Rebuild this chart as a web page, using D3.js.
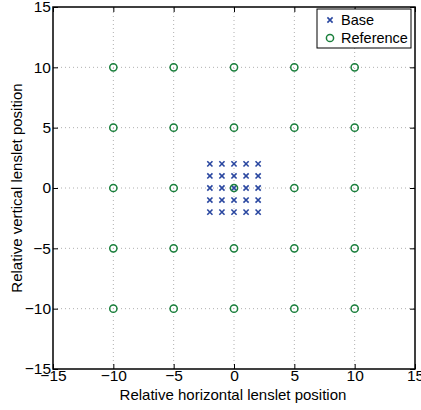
<!DOCTYPE html>
<html>
<head>
<meta charset="utf-8">
<script src="https://cdn.jsdelivr.net/npm/d3@7"></script>
<style>
  body { margin: 0; background: #fff; }
  text { font-family: "Liberation Sans", Arial, sans-serif; }
</style>
</head>
<body>
<div id="chart"></div>
<script>
// Base lenslet offsets (x, y) and reference lenslet offsets
const baseX = [-2, -1, 0, 1, 2];
const baseY = [-2, -1, 0, 1, 2];
const refX = [-10, -5, 0, 5, 10];
const refY = [-10, -5, 0, 5, 10];
const tickValues = [-15, -10, -5, 0, 5, 10, 15];

const width = 421, height = 410;
const margin = { top: 7, right: 6, bottom: 41, left: 53 };

const svg = d3.select("#chart").append("svg")
    .attr("width", width)
    .attr("height", height);

const x = d3.scaleLinear().domain([-15, 15]).range([margin.left, width - margin.right]);
const y = d3.scaleLinear().domain([-15, 15]).range([height - margin.bottom, margin.top]);

const blue = "#2a47a0";
const green = "#1a7f3c";
const fmt = d => d < 0 ? "\u2212" + Math.abs(d) : String(d);

// grid
const grid = svg.append("g").attr("stroke", "#b0b0b0").attr("stroke-width", 1)
    .attr("stroke-dasharray", "1,3");
tickValues.slice(1, -1).forEach(v => {
    grid.append("line").attr("x1", x(v)).attr("x2", x(v))
        .attr("y1", y(-15)).attr("y2", y(15));
    grid.append("line").attr("y1", y(v)).attr("y2", y(v))
        .attr("x1", x(-15)).attr("x2", x(15));
});

// axes with inward ticks
const axisStyle = g => {
    g.select(".domain").remove();
    g.selectAll(".tick line").attr("stroke", "#000");
    g.selectAll(".tick text").attr("font-size", 15.5).attr("fill", "#000");
};
svg.append("g").attr("transform", `translate(0,${y(-15)})`)
    .call(d3.axisBottom(x).tickValues(tickValues).tickSizeInner(-5).tickSizeOuter(0).tickPadding(1).tickFormat(fmt))
    .call(axisStyle);
svg.append("g").attr("transform", `translate(0,${y(15)})`)
    .call(d3.axisTop(x).tickValues(tickValues).tickSizeInner(-5).tickSizeOuter(0).tickFormat(() => ""))
    .call(axisStyle);
svg.append("g").attr("transform", `translate(${x(-15)},0)`)
    .call(d3.axisLeft(y).tickValues(tickValues).tickSizeInner(-5).tickSizeOuter(0).tickPadding(2).tickFormat(fmt))
    .call(axisStyle);
svg.append("g").attr("transform", `translate(${x(15)},0)`)
    .call(d3.axisRight(y).tickValues(tickValues).tickSizeInner(-5).tickSizeOuter(0).tickFormat(() => ""))
    .call(axisStyle);

// box
svg.append("rect")
    .attr("x", x(-15)).attr("y", y(15))
    .attr("width", x(15) - x(-15)).attr("height", y(-15) - y(15))
    .attr("fill", "none").attr("stroke", "#000").attr("stroke-width", 1.5);

// base crosses
const basePts = baseY.flatMap(yy => baseX.map(xx => [xx, yy]));
const cross = (g, cx, cy, s) => {
    g.append("path")
        .attr("d", `M${cx - s},${cy - s}L${cx + s},${cy + s}M${cx - s},${cy + s}L${cx + s},${cy - s}`)
        .attr("stroke", blue).attr("stroke-width", 1.6).attr("fill", "none");
};
const baseG = svg.append("g");
basePts.forEach(p => cross(baseG, x(p[0]), y(p[1]), 2.6));

// reference circles
const refPts = refY.flatMap(yy => refX.map(xx => [xx, yy]));
svg.append("g").selectAll("circle").data(refPts).join("circle")
    .attr("cx", d => x(d[0])).attr("cy", d => y(d[1])).attr("r", 3.6)
    .attr("fill", "none").attr("stroke", green).attr("stroke-width", 1.5);

// axis labels
svg.append("text").attr("x", x(0) - 1).attr("y", 400)
    .attr("text-anchor", "middle").attr("font-size", 15)
    .text("Relative horizontal lenslet position");
svg.append("text")
    .attr("transform", `translate(22,${y(0)}) rotate(-90)`)
    .attr("text-anchor", "middle").attr("font-size", 15)
    .text("Relative vertical lenslet position");

// legend
const leg = svg.append("g").attr("transform", "translate(317,9)");
leg.append("rect").attr("width", 94).attr("height", 39)
    .attr("fill", "#fff").attr("stroke", "#000").attr("stroke-width", 1);
cross(leg, 13, 11, 2.6);
leg.append("circle").attr("cx", 13).attr("cy", 29).attr("r", 3.6)
    .attr("fill", "none").attr("stroke", green).attr("stroke-width", 1.5);
leg.append("text").attr("x", 24).attr("y", 16).attr("font-size", 14.5).text("Base");
leg.append("text").attr("x", 24).attr("y", 34).attr("font-size", 14.5).text("Reference");
</script>
</body>
</html>
